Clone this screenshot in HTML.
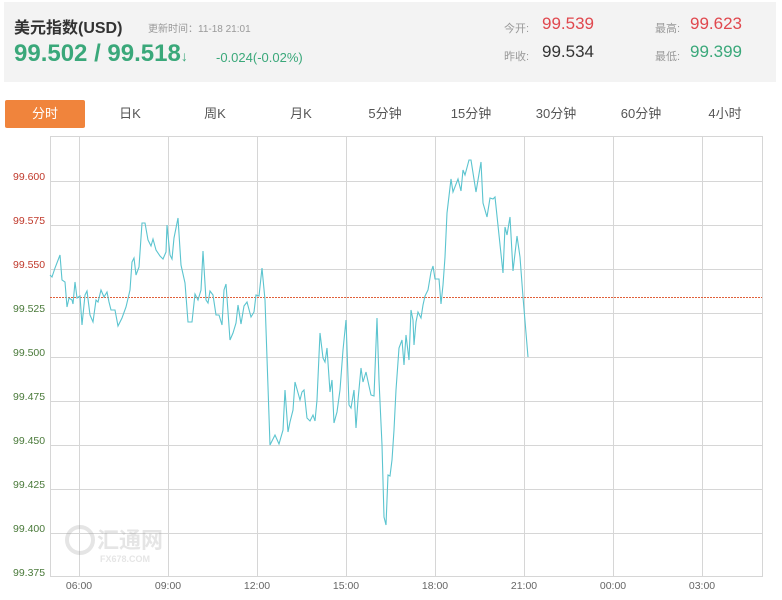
<!DOCTYPE html>
<html><head><meta charset="utf-8"><style>
body{margin:0;width:782px;height:600px;background:#fff;font-family:"Liberation Sans","Noto Sans CJK SC",sans-serif;position:relative;overflow:hidden}
.hd{position:absolute;left:4px;top:2px;width:772px;height:80px;background:#f3f3f3}
.a{position:absolute;white-space:nowrap}
.tab{position:absolute;top:100px;height:28px;line-height:28px;font-size:13px;color:#555;text-align:center;width:80px}
</style></head><body>
<div class="hd"></div>
<div class="a" style="left:14px;top:14px;font-size:16px;font-weight:bold;color:#333">美元指数(USD)</div>
<div class="a" style="left:148px;top:20px;font-size:10px;color:#999">更新时间：11-18 21:01</div>
<div class="a" style="left:14px;top:40px;font-size:24px;font-weight:bold;color:#3aa87a">99.502 / 99.518<span style="font-size:14px">↓</span></div>
<div class="a" style="left:216px;top:50px;font-size:13px;color:#3aa87a">-0.024(-0.02%)</div>
<div class="a" style="left:504px;top:20px;font-size:11px;color:#999">今开:</div>
<div class="a" style="left:542px;top:14px;font-size:17px;color:#e0484e">99.539</div>
<div class="a" style="left:655px;top:20px;font-size:11px;color:#999">最高:</div>
<div class="a" style="left:690px;top:14px;font-size:17px;color:#e0484e">99.623</div>
<div class="a" style="left:504px;top:48px;font-size:11px;color:#999">昨收:</div>
<div class="a" style="left:542px;top:42px;font-size:17px;color:#333">99.534</div>
<div class="a" style="left:655px;top:48px;font-size:11px;color:#999">最低:</div>
<div class="a" style="left:690px;top:42px;font-size:17px;color:#3aa87a">99.399</div>
<div class="tab" style="left:5px;background:#f0843c;color:#fff;border-radius:2px">分时</div>
<div class="tab" style="left:90px">日K</div>
<div class="tab" style="left:175px">周K</div>
<div class="tab" style="left:261px">月K</div>
<div class="tab" style="left:345px">5分钟</div>
<div class="tab" style="left:431px">15分钟</div>
<div class="tab" style="left:516px">30分钟</div>
<div class="tab" style="left:601px">60分钟</div>
<div class="tab" style="left:685px">4小时</div>
<svg width="782" height="600" style="position:absolute;left:0;top:0">
<g stroke="#d6d6d6" stroke-width="1" fill="none">
<rect x="50.5" y="136.5" width="712" height="440"/>
<path d="M50 181.5H762M50 225.5H762M50 269.5H762M50 313.5H762M50 357.5H762M50 401.5H762M50 445.5H762M50 489.5H762M50 533.5H762"/>
<path d="M79.5 136V576M168.5 136V576M257.5 136V576M346.5 136V576M435.5 136V576M524.5 136V576M613.5 136V576M702.5 136V576"/>
</g>
<g font-family="Liberation Sans,sans-serif" font-size="10.5" fill="#4a7a3a">
<text x="13" y="180" fill="#c0392b">99.600</text>
<text x="13" y="224" fill="#c0392b">99.575</text>
<text x="13" y="268" fill="#c0392b">99.550</text>
<text x="13" y="312">99.525</text>
<text x="13" y="356">99.500</text>
<text x="13" y="400">99.475</text>
<text x="13" y="444">99.450</text>
<text x="13" y="488">99.425</text>
<text x="13" y="532">99.400</text>
<text x="13" y="576">99.375</text>
</g>
<g font-family="Liberation Sans,sans-serif" font-size="10.5" fill="#666" text-anchor="middle">
<text x="79" y="589">06:00</text><text x="168" y="589">09:00</text><text x="257" y="589">12:00</text><text x="346" y="589">15:00</text><text x="435" y="589">18:00</text><text x="524" y="589">21:00</text><text x="613" y="589">00:00</text><text x="702" y="589">03:00</text>
</g>
<line x1="50" y1="297.5" x2="762" y2="297.5" stroke="#e0603a" stroke-width="1" stroke-dasharray="2,1"/>
<g opacity="0.25" fill="#999">
<circle cx="80" cy="540" r="13" fill="none" stroke="#999" stroke-width="4"/>
<text x="97" y="548" font-size="22" font-family="Noto Sans CJK SC,sans-serif" font-weight="bold">汇通网</text>
<text x="100" y="562" font-size="9" font-family="Liberation Sans,sans-serif" font-weight="bold">FX678.COM</text>
</g>
<polyline fill="none" stroke="#5bc4cf" stroke-width="1.1" points="50,275 52,277 55,268 60,255 62,280 65,282 67,307 69,298 72,300 73,304 75,282 77,298 80,296 82,325 85,295 87,291 90,315 93,322 96,300 98,302 101,290 104,297 107,292 109,302 111,310 115,310 118,326 122,318 126,307 130,290 132,262 134,258 136,275 139,267 142,223 145,223 148,240 151,246 153,239 156,250 160,256 163,259 166,252 167,225 170,255 172,259 174,238 178,218 181,265 185,283 188,322 192,322 195,294 198,300 201,290 203,251 206,300 208,303 210,291 213,295 216,315 219,315 222,325 224,290 226,284 230,340 233,333 236,323 238,305 241,324 244,306 247,302 251,317 254,312 256,295 259,296 262,268 265,300 270,445 275,435 279,444 283,430 285,390 288,432 290,422 293,410 295,382 300,400 302,392 304,390 307,418 310,421 313,415 315,421 317,400 320,333 323,358 325,362 327,348 330,392 332,380 334,423 337,412 340,390 343,350 346,320 349,405 351,408 354,390 356,428 358,400 361,368 363,382 366,372 369,386 371,395 374,396 377,318 379,380 382,445 384,517 386,525 388,475 390,476 392,460 394,430 396,390 399,348 402,340 404,365 406,335 409,360 411,310 413,320 414,345 416,322 418,312 421,318 423,305 425,296 428,290 431,272 433,266 435,279 439,279 441,304 443,285 445,257 447,213 451,179 453,192 458,179 461,191 463,170 465,175 469,160 471,160 476,192 481,162 483,203 487,217 490,198 493,199 495,197 503,273 505,227 507,235 510,217 513,271 517,236 520,257 523,297 528,357"/>
</svg>
</body></html>
